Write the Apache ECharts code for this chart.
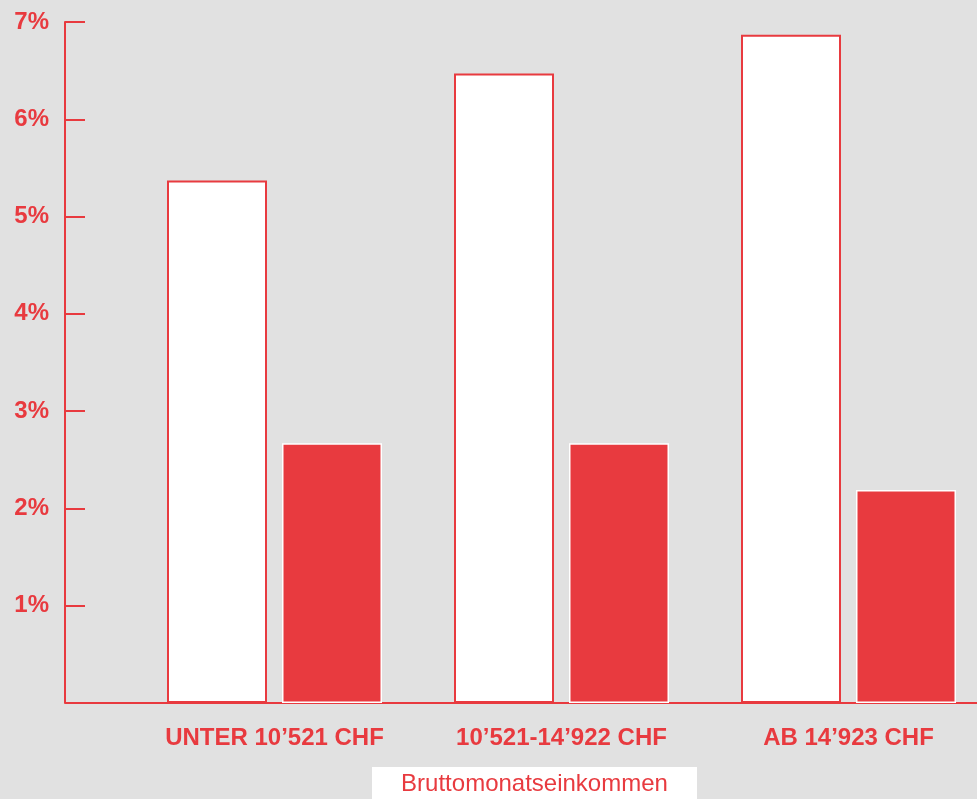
<!DOCTYPE html>
<html><head><meta charset="utf-8">
<script src="https://cdn.jsdelivr.net/npm/echarts@6/dist/echarts.min.js"></script>
<style>html,body{margin:0;padding:0;background:#e1e1e1;}#c{width:977px;height:799px;}</style>
</head><body><div id="c"></div>
<script>
const categories = ['UNTER 10’521 CHF', '10’521-14’922 CHF', 'AB 14’923 CHF'];
const seriesA = [5.37, 6.47, 6.87];
const seriesB = [2.67, 2.67, 2.19];
const yTicks = [0, 1, 2, 3, 4, 5, 6, 7];
const axisTitle = 'Bruttomonatseinkommen';
const RED = '#e83a3f';
const chart = echarts.init(document.getElementById('c'));
chart.setOption({
  backgroundColor: '#e1e1e1',
  animation: false,
  grid: { left: 131, top: 22, bottom: 96, width: 861, containLabel: false, outerBoundsMode: 'none' },
  xAxis: {
    type: 'category', data: categories,
    axisLine: { lineStyle: { color: RED, width: 2 } },
    axisTick: { show: false },
    axisLabel: { color: RED, fontFamily: 'Liberation Sans', fontWeight: 'bold', fontSize: 24, margin: 23 }
  },
  yAxis: {
    type: 'value', min: 0, max: 7, interval: 1, offset: 66,
    splitLine: { show: false },
    axisLine: { show: true, lineStyle: { color: RED, width: 2 } },
    axisTick: { show: true, inside: true, length: 20, lineStyle: { color: RED, width: 2 } },
    axisLabel: { color: RED, fontFamily: 'Liberation Sans', fontWeight: 'bold', fontSize: 24, margin: 16,
      formatter: v => v === 0 ? '' : v + '%' }
  },
  series: [
    { type: 'bar', data: seriesA, barWidth: 100, barGap: '15%',
      itemStyle: { color: '#ffffff', borderColor: RED, borderWidth: 2 } },
    { type: 'bar', data: seriesB, barWidth: 100,
      itemStyle: { color: RED, borderColor: '#ffffff', borderWidth: 1.5 } }
  ],
  graphic: [
    { type: 'line', shape: { x1: 65, y1: 703, x2: 131, y2: 703 }, style: { stroke: RED, lineWidth: 2 } },
    { type: 'rect', shape: { x: 372, y: 767, width: 325, height: 34 }, style: { fill: '#ffffff' } },
    { type: 'text', x: 534.5, y: 784, style: { text: axisTitle, fill: RED, font: '24px "Liberation Sans"', textAlign: 'center', textVerticalAlign: 'middle' } }
  ]
});
</script></body></html>
